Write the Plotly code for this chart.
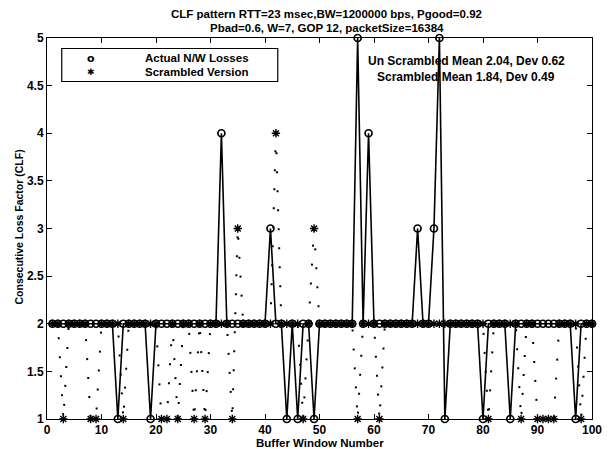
import plotly.graph_objects as go

# ---------------- data ----------------
window = list(range(1, 101))

actual_clf = [
    2, 2, 2, 2, 2, 2, 2, 2, 2, 2,
    2, 2, 1, 2, 2, 2, 2, 2, 1, 2,
    2, 2, 2, 2, 2, 2, 2, 2, 2, 2,
    2, 4, 2, 2, 2, 2, 2, 2, 2, 2,
    3, 2, 2, 1, 2, 1, 2, 2, 1, 2,
    2, 2, 2, 2, 2, 2, 5, 2, 4, 2,
    2, 2, 2, 2, 2, 2, 2, 3, 2, 2,
    3, 5, 1, 2, 2, 2, 2, 2, 2, 1,
    2, 2, 2, 2, 1, 2, 2, 2, 2, 2,
    2, 2, 2, 2, 2, 2, 1, 2, 2, 2,
]

scrambled_clf = [
    2, 2, 1, 2, 2, 2, 2, 1, 1, 2,
    2, 2, 2, 1, 2, 2, 2, 2, 2, 2,
    1, 1, 2, 1, 2, 2, 1, 2, 1, 2,
    2, 2, 2, 1, 3, 2, 2, 2, 2, 2,
    2, 4, 2, 2, 2, 2, 1, 2, 3, 2,
    2, 2, 2, 2, 2, 2, 1, 2, 2, 2,
    1, 2, 2, 2, 2, 2, 2, 2, 2, 2,
    2, 2, 2, 2, 2, 2, 2, 2, 2, 2,
    1, 2, 2, 2, 2, 2, 1, 2, 2, 1,
    1, 1, 1, 2, 2, 2, 2, 1, 2, 2,
]

x_ticks = [0, 10, 20, 30, 40, 50, 60, 70, 80, 90, 100]
y_ticks = [1, 1.5, 2, 2.5, 3, 3.5, 4, 4.5, 5]
y_tick_labels = ["1", "1.5", "2", "2.5", "3", "3.5", "4", "4.5", "5"]

title_lines = [
    "CLF pattern RTT=23 msec,BW=1200000 bps, Pgood=0.92",
    "Pbad=0.6, W=7, GOP 12, packetSize=16384",
]
x_label = "Buffer Window Number"
y_label = "Consecutive Loss Factor (CLF)"
legend_labels = ["Actual N/W Losses", "Scrambled Version"]
stats_lines = ["Un Scrambled Mean 2.04, Dev 0.62", "Scrambled Mean 1.84, Dev 0.49"]

# ---------------- layout helpers ----------------
W, H = 614, 449
L, R, T, B = 47, 602, 38, 419
FONT = "Liberation Sans, Arial, Helvetica, sans-serif"


def px_x(p):
    return (p - L) / (R - L)


def px_y(p):
    return (B - p) / (B - T)


fig = go.Figure()

fig.add_trace(go.Scatter(
    x=window, y=actual_clf, mode="lines+markers",
    name=legend_labels[0],
    line=dict(color="black", width=1.6),
    marker=dict(symbol="circle-open", size=7, color="black",
                line=dict(width=1.7, color="black")),
    cliponaxis=False, showlegend=False,
))

fig.add_trace(go.Scatter(
    x=window, y=scrambled_clf, mode="lines+markers",
    name=legend_labels[1],
    line=dict(color="black", width=2, dash="2px,17px"),
    marker=dict(symbol="asterisk-open", size=7, color="black",
                line=dict(width=1.4, color="black")),
    cliponaxis=False, showlegend=False,
))

axis_common = dict(
    showgrid=False, zeroline=False,
    showline=True, linecolor="black", linewidth=1, mirror="ticks",
    ticks="inside", ticklen=5, tickwidth=1, tickcolor="black",
    tickfont=dict(family=FONT, size=12, color="black", weight="bold"),
)

fig.update_xaxes(range=[0, 100], tickvals=x_ticks,
                 ticktext=[str(v) for v in x_ticks], **axis_common)
fig.update_yaxes(range=[1, 5], tickvals=y_ticks, ticktext=y_tick_labels,
                 **axis_common)

annotations = []
# title
for txt, ypx in zip(title_lines, [14.3, 27.6]):
    annotations.append(dict(
        text=txt, x=px_x(332), y=px_y(ypx), xref="paper", yref="paper",
        xanchor="center", yanchor="middle", showarrow=False, borderpad=0,
        font=dict(family=FONT, size=11.5, color="black", weight="bold")))
# axis labels
annotations.append(dict(
    text=x_label, x=px_x(325), y=px_y(442.5), xref="paper", yref="paper",
    xanchor="center", yanchor="middle", showarrow=False,
    font=dict(family=FONT, size=11.5, color="black", weight="bold")))
annotations.append(dict(
    text=y_label, x=px_x(18), y=px_y(227), xref="paper", yref="paper",
    xanchor="center", yanchor="middle", showarrow=False, textangle=-90,
    font=dict(family=FONT, size=10.5, color="black", weight="bold")))
# legend
for txt, sym, ypx in zip(legend_labels, ["o", "\u2731"], [58.3, 71.7]):
    annotations.append(dict(
        text=sym, x=px_x(92), y=px_y(ypx), xref="paper", yref="paper",
        xanchor="center", yanchor="middle", showarrow=False, borderpad=0,
        font=dict(family="DejaVu Sans, " + FONT, size=9 if sym != "o" else 11,
                  color="black", weight="bold")))
    annotations.append(dict(
        text=txt, x=px_x(146), y=px_y(ypx), xref="paper", yref="paper",
        xanchor="left", yanchor="middle", showarrow=False, borderpad=0,
        font=dict(family=FONT, size=11.5, color="black", weight="bold")))
# statistics text
for txt, ypx in zip(stats_lines, [61.5, 76.5]):
    annotations.append(dict(
        text=txt, x=px_x(474), y=px_y(ypx), xref="paper", yref="paper",
        xanchor="center", yanchor="middle", showarrow=False,
        font=dict(family=FONT, size=12, color="black", weight="bold")))

shapes = [dict(
    type="rect", xref="paper", yref="paper",
    x0=px_x(62), x1=px_x(282), y0=px_y(81.5), y1=px_y(48.5),
    line=dict(color="black", width=1.2), fillcolor="white", layer="above",
)]

fig.update_layout(
    width=W, height=H,
    margin=dict(l=L, r=W - R, t=T, b=H - B),
    paper_bgcolor="white", plot_bgcolor="white",
    showlegend=False,
    annotations=annotations, shapes=shapes,
)

fig.write_html(
    "out.html",
    config={"displayModeBar": False},
    post_script="document.body.style.margin='0';"
                "document.body.style.overflow='hidden';",
)
